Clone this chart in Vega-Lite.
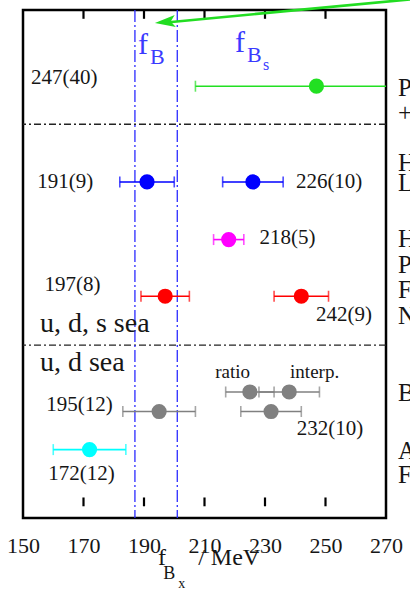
{
  "$schema": "https://vega.github.io/schema/vega-lite/v6.json",
  "width": 363,
  "height": 508,
  "autosize": {"type": "none"},
  "padding": {"left": 23, "top": 10, "right": 24, "bottom": 79},
  "background": "white",
  "config": {
    "view": {"stroke": "black", "strokeWidth": 2.5},
    "font": "Liberation Serif",
    "text": {"font": "Liberation Serif", "color": "#161616"},
    "axisY": {"disable": true}
  },
  "datasets": {
    "results": [
      {"collab": "RBC/UKQCD static", "meson": "Bs", "method": "", "value": 247, "lo": 207, "hi": 287, "row": 19.5},
      {"collab": "HPQCD NRQCD", "meson": "B", "method": "", "value": 191, "lo": 182, "hi": 200, "row": 44},
      {"collab": "HPQCD NRQCD", "meson": "Bs", "method": "", "value": 226, "lo": 216, "hi": 236, "row": 44},
      {"collab": "HPQCD HISQ", "meson": "Bs", "method": "", "value": 218, "lo": 213, "hi": 223, "row": 58.75},
      {"collab": "Fermilab/MILC", "meson": "B", "method": "", "value": 197, "lo": 189, "hi": 205, "row": 73.25},
      {"collab": "Fermilab/MILC", "meson": "Bs", "method": "", "value": 242, "lo": 233, "hi": 251, "row": 73.25},
      {"collab": "ETMC", "meson": "Bs", "method": "ratio", "value": 225, "lo": 217, "hi": 233, "row": 97.75},
      {"collab": "ETMC", "meson": "Bs", "method": "interp.", "value": 238, "lo": 228, "hi": 248, "row": 97.75},
      {"collab": "ETMC", "meson": "B", "method": "", "value": 195, "lo": 183, "hi": 207, "row": 102.75},
      {"collab": "ETMC", "meson": "Bs", "method": "", "value": 232, "lo": 222, "hi": 242, "row": 102.75},
      {"collab": "ALPHA", "meson": "B", "method": "", "value": 172, "lo": 160, "hi": 184, "row": 112.5}
    ],
    "valueLabels": [
      {"text": "247(40)", "at": 163.6, "row": 17.5},
      {"text": "191(9)", "at": 164.0, "row": 44},
      {"text": "226(10)", "at": 251.2, "row": 44},
      {"text": "218(5)", "at": 237.4, "row": 58.25},
      {"text": "197(8)", "at": 166.4, "row": 70.5},
      {"text": "242(9)", "at": 256.1, "row": 78},
      {"text": "195(12)", "at": 168.7, "row": 101},
      {"text": "232(10)", "at": 251.5, "row": 107.25},
      {"text": "172(12)", "at": 169.3, "row": 118.75}
    ],
    "refs": [
      {"text": "Prelim. RBC/UKQCD", "row": 20},
      {"text": "+ static b quarks", "row": 26.25},
      {"text": "HPQCD, NRQCD b", "row": 39.25},
      {"text": "Lattice 2011", "row": 44.25},
      {"text": "HPQCD, HISQ", "row": 58.5},
      {"text": "PRD 85 031503", "row": 65.25},
      {"text": "Fermilab/MILC", "row": 71.75},
      {"text": "Nf = 2+1", "row": 78.25},
      {"text": "B-physics, ETMC", "row": 98},
      {"text": "ALPHA", "row": 112.75},
      {"text": "Fritzsch et al., Nf = 2", "row": 119}
    ],
    "frameTicks": [
      {"at": 170, "edge": 0, "inner": 2.25}, {"at": 190, "edge": 0, "inner": 2.25},
      {"at": 210, "edge": 0, "inner": 2.25}, {"at": 230, "edge": 0, "inner": 2.25},
      {"at": 250, "edge": 0, "inner": 2.25},
      {"at": 170, "edge": 127, "inner": 124.75}, {"at": 190, "edge": 127, "inner": 124.75},
      {"at": 210, "edge": 127, "inner": 124.75}, {"at": 230, "edge": 127, "inner": 124.75},
      {"at": 250, "edge": 127, "inner": 124.75}
    ]
  },
  "layer": [
    {
      "description": "sea-content separators",
      "data": {"values": [{"row": 29.25}, {"row": 85.75}]},
      "mark": {"type": "rule", "color": "#222", "strokeWidth": 1.4, "strokeDash": [7, 3, 2, 3]},
      "encoding": {
        "y": {"field": "row", "type": "quantitative", "scale": {"domain": [0, 127], "reverse": true}}
      }
    },
    {
      "description": "f_B band edges, carrying the bottom axis labels",
      "data": {"values": [{"fB": 187}, {"fB": 201}]},
      "mark": {"type": "rule", "color": "#2b2bff", "strokeWidth": 1.3, "strokeDash": [12, 3, 2, 3]},
      "encoding": {
        "x": {
          "field": "fB", "type": "quantitative", "title": null,
          "scale": {"domain": [150, 270], "nice": false, "zero": false},
          "axis": {"orient": "bottom", "values": [150, 170, 190, 210, 230, 250, 270], "format": "d", "ticks": false, "grid": false, "domain": false, "title": null, "labelFont": "Liberation Serif", "labelFontSize": 22, "labelColor": "#161616", "labelPadding": 17, "labelFlush": false, "labelBaseline": "top"}
        }
      }
    },
    {
      "description": "inward frame ticks on the top and bottom edges",
      "data": {"name": "frameTicks"},
      "mark": {"type": "rule", "color": "black", "strokeWidth": 2.2},
      "encoding": {
        "x": {"field": "at", "type": "quantitative", "title": null},
        "y": {"field": "edge", "type": "quantitative"},
        "y2": {"field": "inner"}
      }
    },
    {
      "description": "error bars",
      "data": {"name": "results"},
      "mark": {"type": "rule", "strokeWidth": 1.6, "clip": true},
      "encoding": {
        "x": {"field": "lo", "type": "quantitative", "title": null},
        "x2": {"field": "hi"},
        "y": {"field": "row", "type": "quantitative"},
        "color": {
          "field": "collab", "type": "nominal", "legend": null,
          "scale": {
            "domain": ["RBC/UKQCD static", "HPQCD NRQCD", "HPQCD HISQ", "Fermilab/MILC", "ETMC", "ALPHA"],
            "range": ["#22e022", "#0000ff", "#ff00ff", "#ff0000", "#808080", "#00ffff"]
          }
        }
      }
    },
    {
      "data": {"name": "results"},
      "mark": {"type": "tick", "orient": "vertical", "size": 11, "thickness": 1.6, "clip": true},
      "encoding": {
        "x": {"field": "lo", "type": "quantitative", "title": null},
        "y": {"field": "row", "type": "quantitative"},
        "color": {"field": "collab", "type": "nominal", "legend": null}
      }
    },
    {
      "data": {"name": "results"},
      "mark": {"type": "tick", "orient": "vertical", "size": 11, "thickness": 1.6, "clip": true},
      "encoding": {
        "x": {"field": "hi", "type": "quantitative", "title": null},
        "y": {"field": "row", "type": "quantitative"},
        "color": {"field": "collab", "type": "nominal", "legend": null}
      }
    },
    {
      "description": "central values",
      "data": {"name": "results"},
      "mark": {"type": "circle", "size": 230, "opacity": 1},
      "encoding": {
        "x": {"field": "value", "type": "quantitative", "title": null},
        "y": {"field": "row", "type": "quantitative"},
        "color": {"field": "collab", "type": "nominal", "legend": null}
      }
    },
    {
      "data": {"name": "valueLabels"},
      "mark": {"type": "text", "fontSize": 21, "align": "center", "baseline": "middle"},
      "encoding": {
        "x": {"field": "at", "type": "quantitative", "title": null},
        "y": {"field": "row", "type": "quantitative"},
        "text": {"field": "text"}
      }
    },
    {
      "description": "sea-quark content",
      "data": {"values": [{"text": "u, d, s sea", "at": 155.6, "row": 82.5}, {"text": "u, d sea", "at": 155.6, "row": 92.5}]},
      "mark": {"type": "text", "fontSize": 28, "align": "left", "baseline": "alphabetic"},
      "encoding": {
        "x": {"field": "at", "type": "quantitative", "title": null},
        "y": {"field": "row", "type": "quantitative"},
        "text": {"field": "text"}
      }
    },
    {
      "description": "ETMC method tags",
      "data": {"values": [{"text": "ratio", "at": 219.3, "row": 94.25}, {"text": "interp.", "at": 246.4, "row": 94.25}]},
      "mark": {"type": "text", "fontSize": 19, "align": "center", "baseline": "alphabetic"},
      "encoding": {
        "x": {"field": "at", "type": "quantitative", "title": null},
        "y": {"field": "row", "type": "quantitative"},
        "text": {"field": "text"}
      }
    },
    {
      "description": "band labels f_B and f_Bs: base letter",
      "data": {"values": [{"text": "f", "at": 188.0, "row": 11.25}, {"text": "f", "at": 220.1, "row": 10.75}]},
      "mark": {"type": "text", "fontSize": 30, "align": "left", "baseline": "alphabetic", "color": "#3a3aff"},
      "encoding": {
        "x": {"field": "at", "type": "quantitative", "title": null},
        "y": {"field": "row", "type": "quantitative"},
        "text": {"field": "text"}
      }
    },
    {
      "data": {"values": [{"text": "B", "at": 192.0, "row": 13.75}, {"text": "B", "at": 224.05, "row": 13.25}]},
      "mark": {"type": "text", "fontSize": 22, "align": "left", "baseline": "alphabetic", "color": "#3a3aff"},
      "encoding": {
        "x": {"field": "at", "type": "quantitative", "title": null},
        "y": {"field": "row", "type": "quantitative"},
        "text": {"field": "text"}
      }
    },
    {
      "data": {"values": [{"text": "s", "at": 229.3, "row": 15.25}]},
      "mark": {"type": "text", "fontSize": 16, "align": "left", "baseline": "alphabetic", "color": "#3a3aff"},
      "encoding": {
        "x": {"field": "at", "type": "quantitative", "title": null},
        "y": {"field": "row", "type": "quantitative"},
        "text": {"field": "text"}
      }
    },
    {
      "description": "axis title f_Bx / MeV",
      "data": {"values": [{"text": "f", "at": 194.6, "row": 142}, {"text": "/ MeV", "at": 207.9, "row": 142}]},
      "mark": {"type": "text", "fontSize": 24, "align": "left", "baseline": "alphabetic"},
      "encoding": {
        "x": {"field": "at", "type": "quantitative", "title": null},
        "y": {"field": "row", "type": "quantitative"},
        "text": {"field": "text"}
      }
    },
    {
      "data": {"values": [{"text": "B", "at": 196.4, "row": 145.5}]},
      "mark": {"type": "text", "fontSize": 18, "align": "left", "baseline": "alphabetic"},
      "encoding": {
        "x": {"field": "at", "type": "quantitative", "title": null},
        "y": {"field": "row", "type": "quantitative"},
        "text": {"field": "text"}
      }
    },
    {
      "data": {"values": [{"text": "x", "at": 201.3, "row": 148}]},
      "mark": {"type": "text", "fontSize": 14, "align": "left", "baseline": "alphabetic"},
      "encoding": {
        "x": {"field": "at", "type": "quantitative", "title": null},
        "y": {"field": "row", "type": "quantitative"},
        "text": {"field": "text"}
      }
    },
    {
      "description": "green pointer toward the f_B band",
      "data": {"values": [{"from": 290, "fromRow": -3.6, "to": 196.5, "toRow": 3.25}]},
      "mark": {"type": "rule", "color": "#22dd22", "strokeWidth": 2.6},
      "encoding": {
        "x": {"field": "from", "type": "quantitative", "title": null},
        "x2": {"field": "to"},
        "y": {"field": "fromRow", "type": "quantitative"},
        "y2": {"field": "toRow"}
      }
    },
    {
      "data": {"values": [{"to": 193.6, "toRow": 3.3}]},
      "mark": {"type": "point", "shape": "M0,0L2,-0.6L1.55,0L2,0.6Z", "filled": true, "opacity": 1, "size": 420, "angle": 354.7, "color": "#22dd22"},
      "encoding": {
        "x": {"field": "to", "type": "quantitative", "title": null},
        "y": {"field": "toRow", "type": "quantitative"}
      }
    },
    {
      "description": "reference captions at the right margin",
      "data": {"name": "refs"},
      "mark": {"type": "text", "fontSize": 25, "align": "left", "baseline": "middle"},
      "encoding": {
        "x": {"datum": 274.0, "type": "quantitative"},
        "y": {"field": "row", "type": "quantitative"},
        "text": {"field": "text"}
      }
    }
  ]
}
